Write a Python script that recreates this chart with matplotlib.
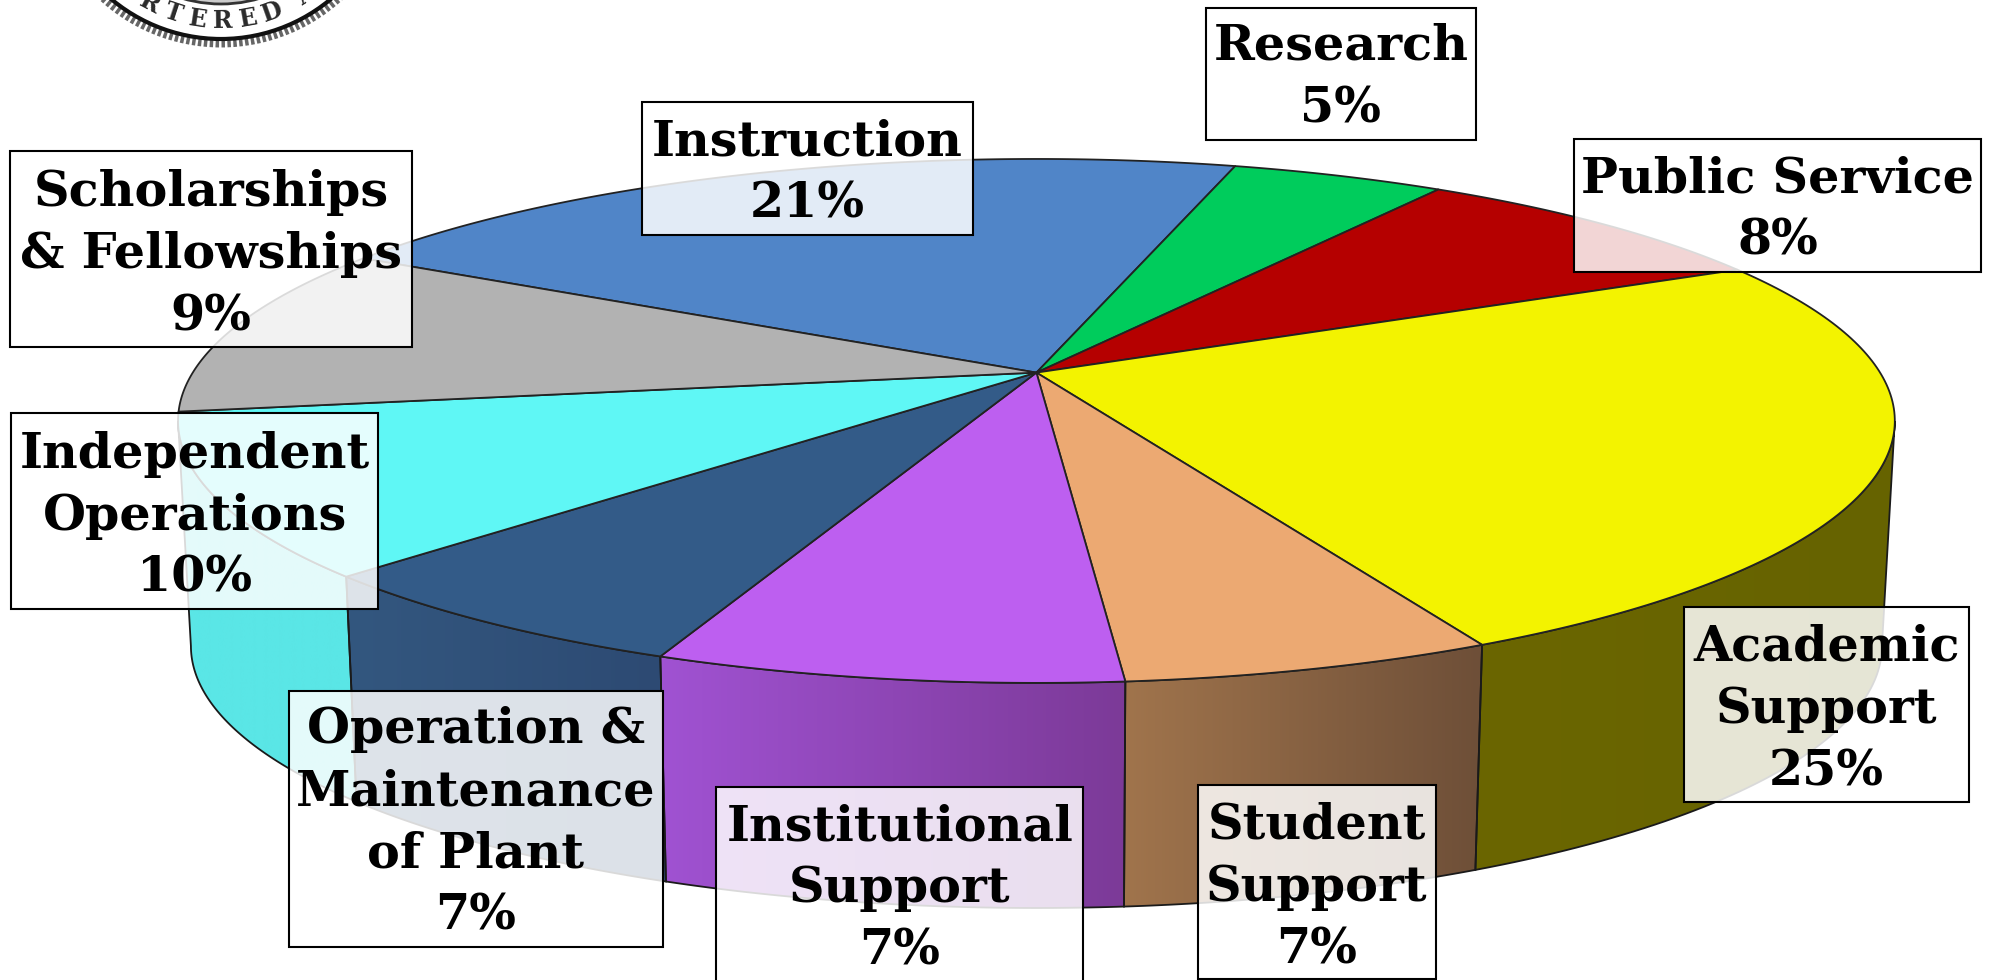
import numpy as np
import matplotlib
matplotlib.use("Agg")
import matplotlib.pyplot as plt
from matplotlib.patches import Polygon, Rectangle, Circle

names = ["Instruction", "Research", "Public Service", "Academic\nSupport", "Student\nSupport",
         "Institutional\nSupport", "Operation &\nMaintenance\nof Plant", "Independent\nOperations",
         "Scholarships\n& Fellowships"]
pct_labels = ["21%", "5%", "8%", "25%", "7%", "7%", "7%", "10%", "9%"]
# slice sizes as measured on the picture, they differ a bit from the printed labels
shares = [21.3, 4.8, 8.5, 25.0, 5.9, 7.4, 6.6, 10.0, 10.6]

top_colors = ["#5085c8", "#00cc5c", "#b50000", "#f3f300", "#eca972",
              "#bd5ff0", "#335b88", "#5ff7f5", "#b2b2b2"]
wall_left = ["#5085c8", "#00cc5c", "#b50000", "#6b6600", "#a0744c",
             "#a052d2", "#33577f", "#5ae6e6", "#999999"]
wall_right = ["#5085c8", "#00cc5c", "#b50000", "#666300", "#6e4f38",
              "#7c3a98", "#2d4a73", "#5ae6e6", "#999999"]

# label boxes in the scale of the 1568 wide preview: x0, y0, x1, y1, y of text centre
S = 1994 / 1568
boxes = [(505, 80, 765, 185, 136), (948, 6, 1161, 110, 61), (1238, 109, 1558, 214, 165),
         (1324, 477, 1548, 631, 558), (942, 617, 1129, 770, 698), (563, 619, 852, 790, 699),
         (227, 543, 521, 745, 647), (9, 325, 297, 479, 406), (8, 119, 324, 273, 200)]

# rim ellipse and the apparent pie centre (perspective)
cx, cy, a, b = 815 * S, 331 * S, 675 * S, 206 * S
v = (331 - 293) / 206
start_deg = -60.5
depth = 177 * S
shrink = 0.985


def rim(theta):
    # theta clockwise from the top, in degrees
    t = np.radians(theta)
    x, y = np.sin(t), np.cos(t)
    d = 1 + v * y
    return cx + a * x * np.sqrt(1 - v ** 2) / d, cy - b * (y + v) / d


def lower(theta):
    x, y = rim(theta)
    return cx + (x - cx) * shrink, y + depth


fig = plt.figure(figsize=(19.94, 9.8), dpi=100)
ax = fig.add_axes([0, 0, 1, 1])

edges = start_deg + 360 * np.cumsum([0] + shares) / sum(shares)
vis0 = 90 + np.degrees(np.arcsin(v))
vis1 = 360 - vis0

# side walls first
for i in range(len(shares)):
    t0, t1 = max(edges[i], vis0), min(edges[i + 1], vis1)
    if t1 <= t0:
        continue
    th = np.linspace(t0, t1, 60)
    rx, ry = rim(th)
    lx, ly = lower(th[::-1])
    pts = np.column_stack([np.r_[rx, lx], np.r_[ry, ly]])
    poly = Polygon(pts, closed=True, facecolor="none", edgecolor="#1a1a1a", lw=1.3, zorder=3)
    ax.add_patch(poly)
    c0 = np.array(matplotlib.colors.to_rgb(wall_left[i]))
    c1 = np.array(matplotlib.colors.to_rgb(wall_right[i]))
    grad = np.linspace(0, 1, 64)[None, :, None]
    img = c0[None, None, :] * (1 - grad) + c1[None, None, :] * grad
    im = ax.imshow(img, extent=(pts[:, 0].min(), pts[:, 0].max(), pts[:, 1].max(), pts[:, 1].min()),
                   aspect="auto", zorder=2, interpolation="bilinear")
    clip = Polygon(pts, closed=True, transform=ax.transData)
    im.set_clip_path(clip)

# top face
px, py = cx, cy - b * v
for i in range(len(shares)):
    th = np.linspace(edges[i], edges[i + 1], 120)
    rx, ry = rim(th)
    pts = np.column_stack([np.r_[px, rx], np.r_[py, ry]])
    ax.add_patch(Polygon(pts, closed=True, facecolor=top_colors[i], edgecolor="#222222",
                         lw=1.3, joinstyle="round", zorder=4))

# label boxes
for name, pct, box in zip(names, pct_labels, boxes):
    x0, y0, x1, y1, yc = [q * S for q in box]
    ax.add_patch(Rectangle((x0, y0), x1 - x0, y1 - y0, facecolor=(1, 1, 1, 0.84),
                           edgecolor="black", lw=1.5, zorder=5))
    ax.text((x0 + x1) / 2, yc, name + "\n" + pct, ha="center", va="center", ma="center",
            family="DejaVu Serif", weight="bold", fontsize=35.5, linespacing=1.41,
            color="black", zorder=6)

# cropped seal in the top left corner
sx, sy = 221, -132
ax.add_patch(Circle((sx, sy), 176, facecolor="white", edgecolor="#666666", lw=5,
                    linestyle=(0, (0.5, 0.35)), zorder=1))
ax.add_patch(Circle((sx, sy), 171, facecolor="none", edgecolor="#111111", lw=3, zorder=1))
ax.add_patch(Circle((sx, sy), 136, facecolor="#cccccc", edgecolor="#333333", lw=2, zorder=1))
seal_text = "RTERED"
for k, ch in enumerate(seal_text):
    ang = -27.8 + k * 9.5
    t = np.radians(ang)
    ax.text(sx + 153 * np.sin(t), sy + 153 * np.cos(t), ch, rotation=ang, rotation_mode="anchor",
            ha="center", va="center", family="DejaVu Serif", weight="bold", fontsize=17,
            color="#2a2a2a", zorder=1.5)
t = np.radians(33.5)
ax.text(sx + 153 * np.sin(t), sy + 153 * np.cos(t), "A", rotation=33.5, rotation_mode="anchor",
        ha="center", va="center", family="DejaVu Serif", weight="bold", fontsize=17,
        color="#2a2a2a", zorder=1.5)

ax.set_xlim(0, 1994)
ax.set_ylim(980, 0)
ax.axis("off")
fig.savefig("out.png", dpi=100, facecolor="white")
